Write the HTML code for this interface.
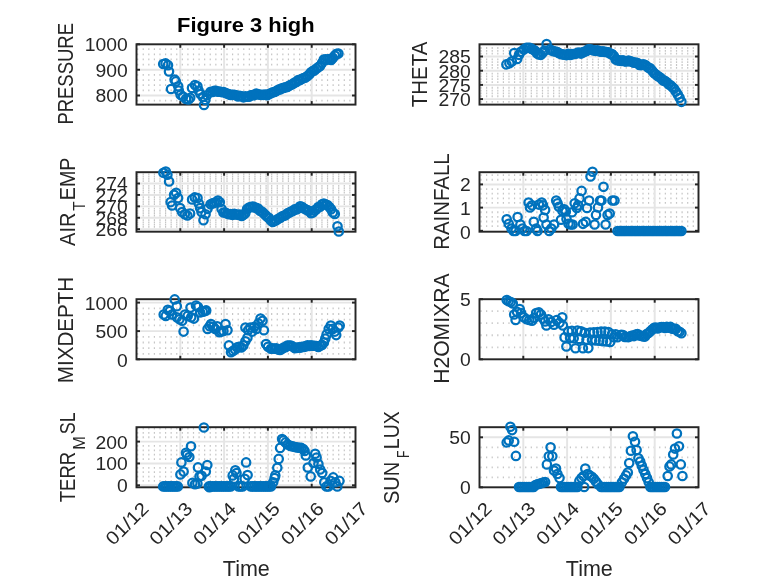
<!DOCTYPE html>
<html><head><meta charset="utf-8"><title>Figure 3 high</title>
<style>
html,body{margin:0;padding:0;background:#fff;}
svg{display:block;font-family:"Liberation Sans",sans-serif;}
svg text{fill:#262626;}
</style></head><body>
<svg width="778" height="583" viewBox="0 0 778 583">
<rect width="778" height="583" fill="#fff"/>
<g>
<line x1="137.05" x2="354.5" y1="100.65" y2="100.65" stroke="#c6c6c6" stroke-width="1.8" stroke-dasharray="1.2 4.385"/>
<line x1="136.5" x2="355.5" y1="95.50" y2="95.50" stroke="#e5e5e5" stroke-width="1.95"/>
<line x1="137.05" x2="354.5" y1="90.35" y2="90.35" stroke="#c6c6c6" stroke-width="1.8" stroke-dasharray="1.2 4.385"/>
<line x1="137.05" x2="354.5" y1="85.20" y2="85.20" stroke="#c6c6c6" stroke-width="1.8" stroke-dasharray="1.2 4.385"/>
<line x1="137.05" x2="354.5" y1="80.05" y2="80.05" stroke="#c6c6c6" stroke-width="1.8" stroke-dasharray="1.2 4.385"/>
<line x1="137.05" x2="354.5" y1="74.90" y2="74.90" stroke="#c6c6c6" stroke-width="1.8" stroke-dasharray="1.2 4.385"/>
<line x1="136.5" x2="355.5" y1="69.75" y2="69.75" stroke="#e5e5e5" stroke-width="1.95"/>
<line x1="137.05" x2="354.5" y1="64.60" y2="64.60" stroke="#c6c6c6" stroke-width="1.8" stroke-dasharray="1.2 4.385"/>
<line x1="137.05" x2="354.5" y1="59.45" y2="59.45" stroke="#c6c6c6" stroke-width="1.8" stroke-dasharray="1.2 4.385"/>
<line x1="137.05" x2="354.5" y1="54.30" y2="54.30" stroke="#c6c6c6" stroke-width="1.8" stroke-dasharray="1.2 4.385"/>
<line x1="137.05" x2="354.5" y1="49.15" y2="49.15" stroke="#c6c6c6" stroke-width="1.8" stroke-dasharray="1.2 4.385"/>
<line x1="180.30" x2="180.30" y1="44.3" y2="104.6" stroke="#e5e5e5" stroke-width="1.95"/>
<line x1="224.10" x2="224.10" y1="44.3" y2="104.6" stroke="#e5e5e5" stroke-width="1.95"/>
<line x1="267.90" x2="267.90" y1="44.3" y2="104.6" stroke="#e5e5e5" stroke-width="1.95"/>
<line x1="311.70" x2="311.70" y1="44.3" y2="104.6" stroke="#e5e5e5" stroke-width="1.95"/>
<rect x="136.5" y="44.3" width="219.0" height="60.30" fill="none" stroke="#262626" stroke-width="1.95"/>
<line x1="180.30" x2="180.30" y1="104.6" y2="101.1" stroke="#262626" stroke-width="1.95"/>
<line x1="180.30" x2="180.30" y1="44.3" y2="47.8" stroke="#262626" stroke-width="1.95"/>
<line x1="224.10" x2="224.10" y1="104.6" y2="101.1" stroke="#262626" stroke-width="1.95"/>
<line x1="224.10" x2="224.10" y1="44.3" y2="47.8" stroke="#262626" stroke-width="1.95"/>
<line x1="267.90" x2="267.90" y1="104.6" y2="101.1" stroke="#262626" stroke-width="1.95"/>
<line x1="267.90" x2="267.90" y1="44.3" y2="47.8" stroke="#262626" stroke-width="1.95"/>
<line x1="311.70" x2="311.70" y1="104.6" y2="101.1" stroke="#262626" stroke-width="1.95"/>
<line x1="311.70" x2="311.70" y1="44.3" y2="47.8" stroke="#262626" stroke-width="1.95"/>
<line x1="136.5" x2="140.0" y1="44.30" y2="44.30" stroke="#262626" stroke-width="1.95"/>
<line x1="355.5" x2="352.0" y1="44.30" y2="44.30" stroke="#262626" stroke-width="1.95"/>
<line x1="136.5" x2="140.0" y1="69.75" y2="69.75" stroke="#262626" stroke-width="1.95"/>
<line x1="355.5" x2="352.0" y1="69.75" y2="69.75" stroke="#262626" stroke-width="1.95"/>
<line x1="136.5" x2="140.0" y1="95.50" y2="95.50" stroke="#262626" stroke-width="1.95"/>
<line x1="355.5" x2="352.0" y1="95.50" y2="95.50" stroke="#262626" stroke-width="1.95"/>
<text x="127.7" y="50.90" text-anchor="end" font-size="18.7" textLength="43.00" lengthAdjust="spacingAndGlyphs">1000</text>
<text x="127.7" y="76.65" text-anchor="end" font-size="18.7" textLength="32.25" lengthAdjust="spacingAndGlyphs">900</text>
<text x="127.7" y="102.40" text-anchor="end" font-size="18.7" textLength="32.25" lengthAdjust="spacingAndGlyphs">800</text>
<g fill="none" stroke="#0072BD" stroke-width="2.25">
<circle cx="163.2" cy="64.0" r="4.2"/>
<circle cx="165.6" cy="63.4" r="4.2"/>
<circle cx="168.0" cy="65.2" r="4.2"/>
<circle cx="169.0" cy="71.5" r="4.2"/>
<circle cx="174.6" cy="79.6" r="4.2"/>
<circle cx="175.8" cy="81.4" r="4.2"/>
<circle cx="171.0" cy="89.0" r="4.2"/>
<circle cx="178.2" cy="86.2" r="4.2"/>
<circle cx="178.8" cy="90.5" r="4.2"/>
<circle cx="180.6" cy="94.7" r="4.2"/>
<circle cx="183.0" cy="96.5" r="4.2"/>
<circle cx="186.0" cy="98.9" r="4.2"/>
<circle cx="188.4" cy="99.5" r="4.2"/>
<circle cx="190.2" cy="97.7" r="4.2"/>
<circle cx="192.0" cy="88.0" r="4.2"/>
<circle cx="195.0" cy="85.0" r="4.2"/>
<circle cx="197.4" cy="86.2" r="4.2"/>
<circle cx="198.6" cy="90.5" r="4.2"/>
<circle cx="200.4" cy="94.0" r="4.2"/>
<circle cx="202.9" cy="97.0" r="4.2"/>
<circle cx="204.0" cy="104.9" r="4.2"/>
<circle cx="205.3" cy="100.0" r="4.2"/>
<circle cx="207.0" cy="95.3" r="4.2"/>
<circle cx="210.6" cy="91.7" r="4.2"/>
<circle cx="212.5" cy="92.0" r="4.2"/>
<circle cx="214.3" cy="90.8" r="4.2"/>
<circle cx="216.1" cy="90.9" r="4.2"/>
<circle cx="217.9" cy="91.7" r="4.2"/>
<circle cx="219.8" cy="91.6" r="4.2"/>
<circle cx="221.6" cy="92.1" r="4.2"/>
<circle cx="223.4" cy="92.0" r="4.2"/>
<circle cx="225.2" cy="92.8" r="4.2"/>
<circle cx="227.1" cy="93.6" r="4.2"/>
<circle cx="228.9" cy="94.3" r="4.2"/>
<circle cx="230.7" cy="94.9" r="4.2"/>
<circle cx="232.5" cy="94.8" r="4.2"/>
<circle cx="234.4" cy="94.7" r="4.2"/>
<circle cx="236.2" cy="95.3" r="4.2"/>
<circle cx="238.0" cy="96.4" r="4.2"/>
<circle cx="239.8" cy="95.7" r="4.2"/>
<circle cx="241.7" cy="96.3" r="4.2"/>
<circle cx="243.5" cy="97.3" r="4.2"/>
<circle cx="245.3" cy="96.3" r="4.2"/>
<circle cx="247.1" cy="96.7" r="4.2"/>
<circle cx="249.0" cy="96.7" r="4.2"/>
<circle cx="250.8" cy="95.2" r="4.2"/>
<circle cx="252.6" cy="95.1" r="4.2"/>
<circle cx="254.4" cy="95.1" r="4.2"/>
<circle cx="256.3" cy="93.5" r="4.2"/>
<circle cx="258.1" cy="94.2" r="4.2"/>
<circle cx="259.9" cy="94.7" r="4.2"/>
<circle cx="261.8" cy="94.8" r="4.2"/>
<circle cx="263.6" cy="94.8" r="4.2"/>
<circle cx="265.4" cy="94.6" r="4.2"/>
<circle cx="267.2" cy="95.2" r="4.2"/>
<circle cx="269.0" cy="94.1" r="4.2"/>
<circle cx="270.9" cy="93.3" r="4.2"/>
<circle cx="272.7" cy="92.3" r="4.2"/>
<circle cx="274.5" cy="92.0" r="4.2"/>
<circle cx="276.3" cy="91.0" r="4.2"/>
<circle cx="278.2" cy="89.7" r="4.2"/>
<circle cx="280.0" cy="89.4" r="4.2"/>
<circle cx="281.8" cy="88.3" r="4.2"/>
<circle cx="283.6" cy="87.9" r="4.2"/>
<circle cx="285.5" cy="87.2" r="4.2"/>
<circle cx="287.3" cy="86.9" r="4.2"/>
<circle cx="289.1" cy="85.8" r="4.2"/>
<circle cx="290.9" cy="84.8" r="4.2"/>
<circle cx="292.8" cy="84.1" r="4.2"/>
<circle cx="294.6" cy="82.5" r="4.2"/>
<circle cx="296.4" cy="82.1" r="4.2"/>
<circle cx="298.2" cy="80.1" r="4.2"/>
<circle cx="300.1" cy="80.1" r="4.2"/>
<circle cx="301.9" cy="78.8" r="4.2"/>
<circle cx="303.7" cy="78.1" r="4.2"/>
<circle cx="305.5" cy="77.6" r="4.2"/>
<circle cx="307.4" cy="76.1" r="4.2"/>
<circle cx="309.2" cy="74.4" r="4.2"/>
<circle cx="311.0" cy="72.3" r="4.2"/>
<circle cx="312.9" cy="70.9" r="4.2"/>
<circle cx="314.7" cy="70.3" r="4.2"/>
<circle cx="316.5" cy="68.5" r="4.2"/>
<circle cx="318.3" cy="67.2" r="4.2"/>
<circle cx="320.1" cy="66.0" r="4.2"/>
<circle cx="322.0" cy="63.1" r="4.2"/>
<circle cx="323.8" cy="59.5" r="4.2"/>
<circle cx="325.6" cy="59.4" r="4.2"/>
<circle cx="327.4" cy="59.6" r="4.2"/>
<circle cx="329.3" cy="59.0" r="4.2"/>
<circle cx="331.1" cy="59.9" r="4.2"/>
<circle cx="332.9" cy="57.9" r="4.2"/>
<circle cx="334.8" cy="55.6" r="4.2"/>
<circle cx="336.6" cy="53.8" r="4.2"/>
<circle cx="338.4" cy="53.6" r="4.2"/>
</g>
</g>
<g>
<line x1="480.45" x2="697.5" y1="101.94" y2="101.94" stroke="#c6c6c6" stroke-width="1.8" stroke-dasharray="1.2 4.385"/>
<line x1="479.5" x2="698.5" y1="99.10" y2="99.10" stroke="#e5e5e5" stroke-width="1.95"/>
<line x1="480.45" x2="697.5" y1="96.26" y2="96.26" stroke="#c6c6c6" stroke-width="1.8" stroke-dasharray="1.2 4.385"/>
<line x1="480.45" x2="697.5" y1="93.42" y2="93.42" stroke="#c6c6c6" stroke-width="1.8" stroke-dasharray="1.2 4.385"/>
<line x1="480.45" x2="697.5" y1="90.58" y2="90.58" stroke="#c6c6c6" stroke-width="1.8" stroke-dasharray="1.2 4.385"/>
<line x1="480.45" x2="697.5" y1="87.74" y2="87.74" stroke="#c6c6c6" stroke-width="1.8" stroke-dasharray="1.2 4.385"/>
<line x1="479.5" x2="698.5" y1="84.90" y2="84.90" stroke="#e5e5e5" stroke-width="1.95"/>
<line x1="480.45" x2="697.5" y1="82.06" y2="82.06" stroke="#c6c6c6" stroke-width="1.8" stroke-dasharray="1.2 4.385"/>
<line x1="480.45" x2="697.5" y1="79.22" y2="79.22" stroke="#c6c6c6" stroke-width="1.8" stroke-dasharray="1.2 4.385"/>
<line x1="480.45" x2="697.5" y1="76.38" y2="76.38" stroke="#c6c6c6" stroke-width="1.8" stroke-dasharray="1.2 4.385"/>
<line x1="480.45" x2="697.5" y1="73.54" y2="73.54" stroke="#c6c6c6" stroke-width="1.8" stroke-dasharray="1.2 4.385"/>
<line x1="479.5" x2="698.5" y1="70.70" y2="70.70" stroke="#e5e5e5" stroke-width="1.95"/>
<line x1="480.45" x2="697.5" y1="67.86" y2="67.86" stroke="#c6c6c6" stroke-width="1.8" stroke-dasharray="1.2 4.385"/>
<line x1="480.45" x2="697.5" y1="65.02" y2="65.02" stroke="#c6c6c6" stroke-width="1.8" stroke-dasharray="1.2 4.385"/>
<line x1="480.45" x2="697.5" y1="62.18" y2="62.18" stroke="#c6c6c6" stroke-width="1.8" stroke-dasharray="1.2 4.385"/>
<line x1="480.45" x2="697.5" y1="59.34" y2="59.34" stroke="#c6c6c6" stroke-width="1.8" stroke-dasharray="1.2 4.385"/>
<line x1="479.5" x2="698.5" y1="56.50" y2="56.50" stroke="#e5e5e5" stroke-width="1.95"/>
<line x1="480.45" x2="697.5" y1="53.66" y2="53.66" stroke="#c6c6c6" stroke-width="1.8" stroke-dasharray="1.2 4.385"/>
<line x1="480.45" x2="697.5" y1="50.82" y2="50.82" stroke="#c6c6c6" stroke-width="1.8" stroke-dasharray="1.2 4.385"/>
<line x1="480.45" x2="697.5" y1="47.98" y2="47.98" stroke="#c6c6c6" stroke-width="1.8" stroke-dasharray="1.2 4.385"/>
<line x1="523.30" x2="523.30" y1="44.3" y2="104.6" stroke="#e5e5e5" stroke-width="1.95"/>
<line x1="567.10" x2="567.10" y1="44.3" y2="104.6" stroke="#e5e5e5" stroke-width="1.95"/>
<line x1="610.90" x2="610.90" y1="44.3" y2="104.6" stroke="#e5e5e5" stroke-width="1.95"/>
<line x1="654.70" x2="654.70" y1="44.3" y2="104.6" stroke="#e5e5e5" stroke-width="1.95"/>
<rect x="479.5" y="44.3" width="219.0" height="60.30" fill="none" stroke="#262626" stroke-width="1.95"/>
<line x1="523.30" x2="523.30" y1="104.6" y2="101.1" stroke="#262626" stroke-width="1.95"/>
<line x1="523.30" x2="523.30" y1="44.3" y2="47.8" stroke="#262626" stroke-width="1.95"/>
<line x1="567.10" x2="567.10" y1="104.6" y2="101.1" stroke="#262626" stroke-width="1.95"/>
<line x1="567.10" x2="567.10" y1="44.3" y2="47.8" stroke="#262626" stroke-width="1.95"/>
<line x1="610.90" x2="610.90" y1="104.6" y2="101.1" stroke="#262626" stroke-width="1.95"/>
<line x1="610.90" x2="610.90" y1="44.3" y2="47.8" stroke="#262626" stroke-width="1.95"/>
<line x1="654.70" x2="654.70" y1="104.6" y2="101.1" stroke="#262626" stroke-width="1.95"/>
<line x1="654.70" x2="654.70" y1="44.3" y2="47.8" stroke="#262626" stroke-width="1.95"/>
<line x1="479.5" x2="483.0" y1="56.50" y2="56.50" stroke="#262626" stroke-width="1.95"/>
<line x1="698.5" x2="695.0" y1="56.50" y2="56.50" stroke="#262626" stroke-width="1.95"/>
<line x1="479.5" x2="483.0" y1="70.70" y2="70.70" stroke="#262626" stroke-width="1.95"/>
<line x1="698.5" x2="695.0" y1="70.70" y2="70.70" stroke="#262626" stroke-width="1.95"/>
<line x1="479.5" x2="483.0" y1="84.90" y2="84.90" stroke="#262626" stroke-width="1.95"/>
<line x1="698.5" x2="695.0" y1="84.90" y2="84.90" stroke="#262626" stroke-width="1.95"/>
<line x1="479.5" x2="483.0" y1="99.10" y2="99.10" stroke="#262626" stroke-width="1.95"/>
<line x1="698.5" x2="695.0" y1="99.10" y2="99.10" stroke="#262626" stroke-width="1.95"/>
<text x="470.7" y="63.40" text-anchor="end" font-size="18.7" textLength="32.25" lengthAdjust="spacingAndGlyphs">285</text>
<text x="470.7" y="77.60" text-anchor="end" font-size="18.7" textLength="32.25" lengthAdjust="spacingAndGlyphs">280</text>
<text x="470.7" y="91.80" text-anchor="end" font-size="18.7" textLength="32.25" lengthAdjust="spacingAndGlyphs">275</text>
<text x="470.7" y="106.00" text-anchor="end" font-size="18.7" textLength="32.25" lengthAdjust="spacingAndGlyphs">270</text>
<g fill="none" stroke="#0072BD" stroke-width="2.25">
<circle cx="506.4" cy="64.4" r="4.2"/>
<circle cx="509.4" cy="63.2" r="4.2"/>
<circle cx="511.8" cy="61.4" r="4.2"/>
<circle cx="514.2" cy="53.0" r="4.2"/>
<circle cx="517.2" cy="59.0" r="4.2"/>
<circle cx="519.0" cy="54.8" r="4.2"/>
<circle cx="520.8" cy="51.8" r="4.2"/>
<circle cx="523.8" cy="49.4" r="4.2"/>
<circle cx="526.3" cy="47.9" r="4.2"/>
<circle cx="528.1" cy="47.7" r="4.2"/>
<circle cx="529.9" cy="47.9" r="4.2"/>
<circle cx="531.8" cy="48.9" r="4.2"/>
<circle cx="533.6" cy="49.8" r="4.2"/>
<circle cx="535.4" cy="51.1" r="4.2"/>
<circle cx="537.2" cy="53.5" r="4.2"/>
<circle cx="539.0" cy="54.5" r="4.2"/>
<circle cx="540.9" cy="54.8" r="4.2"/>
<circle cx="542.7" cy="52.8" r="4.2"/>
<circle cx="544.5" cy="50.6" r="4.2"/>
<circle cx="546.6" cy="44.0" r="4.2"/>
<circle cx="550.0" cy="49.4" r="4.2"/>
<circle cx="551.8" cy="50.5" r="4.2"/>
<circle cx="553.6" cy="51.2" r="4.2"/>
<circle cx="555.5" cy="51.5" r="4.2"/>
<circle cx="557.3" cy="52.1" r="4.2"/>
<circle cx="559.1" cy="53.2" r="4.2"/>
<circle cx="561.0" cy="54.1" r="4.2"/>
<circle cx="562.8" cy="54.3" r="4.2"/>
<circle cx="564.6" cy="54.7" r="4.2"/>
<circle cx="566.4" cy="55.1" r="4.2"/>
<circle cx="568.2" cy="53.9" r="4.2"/>
<circle cx="570.1" cy="55.0" r="4.2"/>
<circle cx="571.9" cy="54.1" r="4.2"/>
<circle cx="573.7" cy="54.1" r="4.2"/>
<circle cx="575.5" cy="53.7" r="4.2"/>
<circle cx="577.4" cy="52.9" r="4.2"/>
<circle cx="579.2" cy="52.5" r="4.2"/>
<circle cx="581.0" cy="53.6" r="4.2"/>
<circle cx="582.9" cy="52.4" r="4.2"/>
<circle cx="584.7" cy="51.6" r="4.2"/>
<circle cx="586.5" cy="51.0" r="4.2"/>
<circle cx="588.3" cy="49.3" r="4.2"/>
<circle cx="590.1" cy="49.2" r="4.2"/>
<circle cx="592.0" cy="49.8" r="4.2"/>
<circle cx="593.8" cy="50.4" r="4.2"/>
<circle cx="595.6" cy="50.8" r="4.2"/>
<circle cx="597.5" cy="50.2" r="4.2"/>
<circle cx="599.3" cy="51.2" r="4.2"/>
<circle cx="601.1" cy="51.7" r="4.2"/>
<circle cx="602.9" cy="51.2" r="4.2"/>
<circle cx="604.8" cy="51.9" r="4.2"/>
<circle cx="606.6" cy="52.0" r="4.2"/>
<circle cx="608.4" cy="52.3" r="4.2"/>
<circle cx="610.2" cy="53.8" r="4.2"/>
<circle cx="612.0" cy="54.0" r="4.2"/>
<circle cx="613.9" cy="56.0" r="4.2"/>
<circle cx="615.7" cy="59.4" r="4.2"/>
<circle cx="617.5" cy="60.3" r="4.2"/>
<circle cx="619.4" cy="60.4" r="4.2"/>
<circle cx="621.2" cy="60.9" r="4.2"/>
<circle cx="623.0" cy="60.3" r="4.2"/>
<circle cx="624.8" cy="61.3" r="4.2"/>
<circle cx="626.6" cy="61.5" r="4.2"/>
<circle cx="628.5" cy="60.5" r="4.2"/>
<circle cx="630.3" cy="61.3" r="4.2"/>
<circle cx="632.1" cy="61.8" r="4.2"/>
<circle cx="634.0" cy="62.7" r="4.2"/>
<circle cx="635.8" cy="62.5" r="4.2"/>
<circle cx="637.6" cy="63.1" r="4.2"/>
<circle cx="639.4" cy="64.9" r="4.2"/>
<circle cx="641.2" cy="65.1" r="4.2"/>
<circle cx="643.1" cy="64.3" r="4.2"/>
<circle cx="644.9" cy="64.8" r="4.2"/>
<circle cx="646.7" cy="66.2" r="4.2"/>
<circle cx="648.5" cy="67.8" r="4.2"/>
<circle cx="650.4" cy="68.4" r="4.2"/>
<circle cx="652.2" cy="70.7" r="4.2"/>
<circle cx="654.0" cy="72.9" r="4.2"/>
<circle cx="655.9" cy="74.6" r="4.2"/>
<circle cx="657.7" cy="75.9" r="4.2"/>
<circle cx="659.5" cy="77.0" r="4.2"/>
<circle cx="661.3" cy="78.6" r="4.2"/>
<circle cx="663.1" cy="80.6" r="4.2"/>
<circle cx="665.0" cy="80.9" r="4.2"/>
<circle cx="666.8" cy="82.3" r="4.2"/>
<circle cx="668.6" cy="84.2" r="4.2"/>
<circle cx="670.5" cy="85.2" r="4.2"/>
<circle cx="672.3" cy="87.0" r="4.2"/>
<circle cx="674.1" cy="88.7" r="4.2"/>
<circle cx="675.9" cy="91.6" r="4.2"/>
<circle cx="677.8" cy="94.6" r="4.2"/>
<circle cx="679.6" cy="97.7" r="4.2"/>
<circle cx="681.4" cy="101.8" r="4.2"/>
</g>
</g>
<g>
<line x1="136.5" x2="355.5" y1="229.20" y2="229.20" stroke="#e5e5e5" stroke-width="1.95"/>
<line x1="137.05" x2="354.5" y1="226.91" y2="226.91" stroke="#c6c6c6" stroke-width="1.8" stroke-dasharray="1.2 4.385"/>
<line x1="137.05" x2="354.5" y1="224.63" y2="224.63" stroke="#c6c6c6" stroke-width="1.8" stroke-dasharray="1.2 4.385"/>
<line x1="137.05" x2="354.5" y1="222.35" y2="222.35" stroke="#c6c6c6" stroke-width="1.8" stroke-dasharray="1.2 4.385"/>
<line x1="137.05" x2="354.5" y1="220.06" y2="220.06" stroke="#c6c6c6" stroke-width="1.8" stroke-dasharray="1.2 4.385"/>
<line x1="136.5" x2="355.5" y1="217.77" y2="217.77" stroke="#e5e5e5" stroke-width="1.95"/>
<line x1="137.05" x2="354.5" y1="215.49" y2="215.49" stroke="#c6c6c6" stroke-width="1.8" stroke-dasharray="1.2 4.385"/>
<line x1="137.05" x2="354.5" y1="213.20" y2="213.20" stroke="#c6c6c6" stroke-width="1.8" stroke-dasharray="1.2 4.385"/>
<line x1="137.05" x2="354.5" y1="210.92" y2="210.92" stroke="#c6c6c6" stroke-width="1.8" stroke-dasharray="1.2 4.385"/>
<line x1="137.05" x2="354.5" y1="208.63" y2="208.63" stroke="#c6c6c6" stroke-width="1.8" stroke-dasharray="1.2 4.385"/>
<line x1="136.5" x2="355.5" y1="206.35" y2="206.35" stroke="#e5e5e5" stroke-width="1.95"/>
<line x1="137.05" x2="354.5" y1="204.06" y2="204.06" stroke="#c6c6c6" stroke-width="1.8" stroke-dasharray="1.2 4.385"/>
<line x1="137.05" x2="354.5" y1="201.78" y2="201.78" stroke="#c6c6c6" stroke-width="1.8" stroke-dasharray="1.2 4.385"/>
<line x1="137.05" x2="354.5" y1="199.50" y2="199.50" stroke="#c6c6c6" stroke-width="1.8" stroke-dasharray="1.2 4.385"/>
<line x1="137.05" x2="354.5" y1="197.21" y2="197.21" stroke="#c6c6c6" stroke-width="1.8" stroke-dasharray="1.2 4.385"/>
<line x1="136.5" x2="355.5" y1="194.93" y2="194.93" stroke="#e5e5e5" stroke-width="1.95"/>
<line x1="137.05" x2="354.5" y1="192.64" y2="192.64" stroke="#c6c6c6" stroke-width="1.8" stroke-dasharray="1.2 4.385"/>
<line x1="137.05" x2="354.5" y1="190.35" y2="190.35" stroke="#c6c6c6" stroke-width="1.8" stroke-dasharray="1.2 4.385"/>
<line x1="137.05" x2="354.5" y1="188.07" y2="188.07" stroke="#c6c6c6" stroke-width="1.8" stroke-dasharray="1.2 4.385"/>
<line x1="137.05" x2="354.5" y1="185.78" y2="185.78" stroke="#c6c6c6" stroke-width="1.8" stroke-dasharray="1.2 4.385"/>
<line x1="136.5" x2="355.5" y1="183.50" y2="183.50" stroke="#e5e5e5" stroke-width="1.95"/>
<line x1="137.05" x2="354.5" y1="181.21" y2="181.21" stroke="#c6c6c6" stroke-width="1.8" stroke-dasharray="1.2 4.385"/>
<line x1="137.05" x2="354.5" y1="178.93" y2="178.93" stroke="#c6c6c6" stroke-width="1.8" stroke-dasharray="1.2 4.385"/>
<line x1="137.05" x2="354.5" y1="176.65" y2="176.65" stroke="#c6c6c6" stroke-width="1.8" stroke-dasharray="1.2 4.385"/>
<line x1="137.05" x2="354.5" y1="174.36" y2="174.36" stroke="#c6c6c6" stroke-width="1.8" stroke-dasharray="1.2 4.385"/>
<line x1="180.30" x2="180.30" y1="172.2" y2="231.7" stroke="#e5e5e5" stroke-width="1.95"/>
<line x1="224.10" x2="224.10" y1="172.2" y2="231.7" stroke="#e5e5e5" stroke-width="1.95"/>
<line x1="267.90" x2="267.90" y1="172.2" y2="231.7" stroke="#e5e5e5" stroke-width="1.95"/>
<line x1="311.70" x2="311.70" y1="172.2" y2="231.7" stroke="#e5e5e5" stroke-width="1.95"/>
<rect x="136.5" y="172.2" width="219.0" height="59.50" fill="none" stroke="#262626" stroke-width="1.95"/>
<line x1="180.30" x2="180.30" y1="231.7" y2="228.2" stroke="#262626" stroke-width="1.95"/>
<line x1="180.30" x2="180.30" y1="172.2" y2="175.7" stroke="#262626" stroke-width="1.95"/>
<line x1="224.10" x2="224.10" y1="231.7" y2="228.2" stroke="#262626" stroke-width="1.95"/>
<line x1="224.10" x2="224.10" y1="172.2" y2="175.7" stroke="#262626" stroke-width="1.95"/>
<line x1="267.90" x2="267.90" y1="231.7" y2="228.2" stroke="#262626" stroke-width="1.95"/>
<line x1="267.90" x2="267.90" y1="172.2" y2="175.7" stroke="#262626" stroke-width="1.95"/>
<line x1="311.70" x2="311.70" y1="231.7" y2="228.2" stroke="#262626" stroke-width="1.95"/>
<line x1="311.70" x2="311.70" y1="172.2" y2="175.7" stroke="#262626" stroke-width="1.95"/>
<line x1="136.5" x2="140.0" y1="183.50" y2="183.50" stroke="#262626" stroke-width="1.95"/>
<line x1="355.5" x2="352.0" y1="183.50" y2="183.50" stroke="#262626" stroke-width="1.95"/>
<line x1="136.5" x2="140.0" y1="194.93" y2="194.93" stroke="#262626" stroke-width="1.95"/>
<line x1="355.5" x2="352.0" y1="194.93" y2="194.93" stroke="#262626" stroke-width="1.95"/>
<line x1="136.5" x2="140.0" y1="206.35" y2="206.35" stroke="#262626" stroke-width="1.95"/>
<line x1="355.5" x2="352.0" y1="206.35" y2="206.35" stroke="#262626" stroke-width="1.95"/>
<line x1="136.5" x2="140.0" y1="217.77" y2="217.77" stroke="#262626" stroke-width="1.95"/>
<line x1="355.5" x2="352.0" y1="217.77" y2="217.77" stroke="#262626" stroke-width="1.95"/>
<line x1="136.5" x2="140.0" y1="229.20" y2="229.20" stroke="#262626" stroke-width="1.95"/>
<line x1="355.5" x2="352.0" y1="229.20" y2="229.20" stroke="#262626" stroke-width="1.95"/>
<text x="127.7" y="190.40" text-anchor="end" font-size="18.7" textLength="32.25" lengthAdjust="spacingAndGlyphs">274</text>
<text x="127.7" y="201.83" text-anchor="end" font-size="18.7" textLength="32.25" lengthAdjust="spacingAndGlyphs">272</text>
<text x="127.7" y="213.25" text-anchor="end" font-size="18.7" textLength="32.25" lengthAdjust="spacingAndGlyphs">270</text>
<text x="127.7" y="224.67" text-anchor="end" font-size="18.7" textLength="32.25" lengthAdjust="spacingAndGlyphs">268</text>
<text x="127.7" y="236.10" text-anchor="end" font-size="18.7" textLength="32.25" lengthAdjust="spacingAndGlyphs">266</text>
<g fill="none" stroke="#0072BD" stroke-width="2.25">
<circle cx="163.4" cy="172.7" r="4.2"/>
<circle cx="165.8" cy="171.6" r="4.2"/>
<circle cx="167.4" cy="174.7" r="4.2"/>
<circle cx="169.1" cy="181.4" r="4.2"/>
<circle cx="176.1" cy="192.8" r="4.2"/>
<circle cx="174.1" cy="194.8" r="4.2"/>
<circle cx="178.1" cy="198.1" r="4.2"/>
<circle cx="170.7" cy="202.1" r="4.2"/>
<circle cx="172.1" cy="205.5" r="4.2"/>
<circle cx="180.1" cy="208.1" r="4.2"/>
<circle cx="182.1" cy="212.1" r="4.2"/>
<circle cx="184.8" cy="214.2" r="4.2"/>
<circle cx="187.4" cy="215.5" r="4.2"/>
<circle cx="190.1" cy="213.5" r="4.2"/>
<circle cx="192.1" cy="199.4" r="4.2"/>
<circle cx="194.8" cy="197.4" r="4.2"/>
<circle cx="197.5" cy="198.1" r="4.2"/>
<circle cx="198.8" cy="203.5" r="4.2"/>
<circle cx="200.1" cy="208.1" r="4.2"/>
<circle cx="201.5" cy="212.1" r="4.2"/>
<circle cx="203.5" cy="220.2" r="4.2"/>
<circle cx="205.5" cy="214.2" r="4.2"/>
<circle cx="207.5" cy="208.8" r="4.2"/>
<circle cx="210.6" cy="204.3" r="4.2"/>
<circle cx="212.5" cy="203.4" r="4.2"/>
<circle cx="214.3" cy="202.7" r="4.2"/>
<circle cx="216.1" cy="202.2" r="4.2"/>
<circle cx="217.9" cy="200.5" r="4.2"/>
<circle cx="219.8" cy="202.2" r="4.2"/>
<circle cx="221.6" cy="209.1" r="4.2"/>
<circle cx="223.4" cy="212.5" r="4.2"/>
<circle cx="225.2" cy="212.5" r="4.2"/>
<circle cx="227.1" cy="213.5" r="4.2"/>
<circle cx="228.9" cy="214.2" r="4.2"/>
<circle cx="230.7" cy="214.1" r="4.2"/>
<circle cx="232.5" cy="214.8" r="4.2"/>
<circle cx="234.4" cy="213.9" r="4.2"/>
<circle cx="236.2" cy="214.5" r="4.2"/>
<circle cx="238.0" cy="214.7" r="4.2"/>
<circle cx="239.8" cy="214.6" r="4.2"/>
<circle cx="241.7" cy="215.9" r="4.2"/>
<circle cx="243.5" cy="214.8" r="4.2"/>
<circle cx="245.3" cy="213.3" r="4.2"/>
<circle cx="247.1" cy="209.1" r="4.2"/>
<circle cx="249.0" cy="207.6" r="4.2"/>
<circle cx="250.8" cy="207.1" r="4.2"/>
<circle cx="252.6" cy="206.5" r="4.2"/>
<circle cx="254.4" cy="207.4" r="4.2"/>
<circle cx="256.3" cy="207.9" r="4.2"/>
<circle cx="258.1" cy="208.5" r="4.2"/>
<circle cx="259.9" cy="210.7" r="4.2"/>
<circle cx="261.8" cy="211.6" r="4.2"/>
<circle cx="263.6" cy="213.3" r="4.2"/>
<circle cx="265.4" cy="215.1" r="4.2"/>
<circle cx="267.2" cy="216.7" r="4.2"/>
<circle cx="269.0" cy="218.0" r="4.2"/>
<circle cx="270.9" cy="220.6" r="4.2"/>
<circle cx="272.7" cy="222.0" r="4.2"/>
<circle cx="274.5" cy="221.0" r="4.2"/>
<circle cx="276.3" cy="220.2" r="4.2"/>
<circle cx="278.2" cy="218.8" r="4.2"/>
<circle cx="280.0" cy="218.0" r="4.2"/>
<circle cx="281.8" cy="216.6" r="4.2"/>
<circle cx="283.6" cy="215.8" r="4.2"/>
<circle cx="285.5" cy="215.3" r="4.2"/>
<circle cx="287.3" cy="213.4" r="4.2"/>
<circle cx="289.1" cy="212.7" r="4.2"/>
<circle cx="290.9" cy="211.5" r="4.2"/>
<circle cx="292.8" cy="211.1" r="4.2"/>
<circle cx="294.6" cy="209.4" r="4.2"/>
<circle cx="296.4" cy="209.5" r="4.2"/>
<circle cx="298.2" cy="208.3" r="4.2"/>
<circle cx="300.1" cy="206.3" r="4.2"/>
<circle cx="301.9" cy="206.7" r="4.2"/>
<circle cx="303.7" cy="208.2" r="4.2"/>
<circle cx="305.5" cy="209.2" r="4.2"/>
<circle cx="307.4" cy="210.3" r="4.2"/>
<circle cx="309.2" cy="210.8" r="4.2"/>
<circle cx="311.0" cy="213.2" r="4.2"/>
<circle cx="312.9" cy="212.4" r="4.2"/>
<circle cx="314.7" cy="210.4" r="4.2"/>
<circle cx="316.5" cy="209.3" r="4.2"/>
<circle cx="318.3" cy="207.0" r="4.2"/>
<circle cx="320.1" cy="206.7" r="4.2"/>
<circle cx="322.0" cy="204.3" r="4.2"/>
<circle cx="323.8" cy="203.5" r="4.2"/>
<circle cx="325.6" cy="204.6" r="4.2"/>
<circle cx="327.4" cy="205.0" r="4.2"/>
<circle cx="329.3" cy="207.0" r="4.2"/>
<circle cx="331.1" cy="209.2" r="4.2"/>
<circle cx="332.9" cy="212.4" r="4.2"/>
<circle cx="334.8" cy="214.0" r="4.2"/>
<circle cx="337.5" cy="226.2" r="4.2"/>
<circle cx="338.8" cy="231.5" r="4.2"/>
</g>
</g>
<g>
<line x1="480.45" x2="697.5" y1="226.16" y2="226.16" stroke="#c6c6c6" stroke-width="1.8" stroke-dasharray="1.2 4.385"/>
<line x1="480.45" x2="697.5" y1="221.52" y2="221.52" stroke="#c6c6c6" stroke-width="1.8" stroke-dasharray="1.2 4.385"/>
<line x1="480.45" x2="697.5" y1="216.88" y2="216.88" stroke="#c6c6c6" stroke-width="1.8" stroke-dasharray="1.2 4.385"/>
<line x1="480.45" x2="697.5" y1="212.24" y2="212.24" stroke="#c6c6c6" stroke-width="1.8" stroke-dasharray="1.2 4.385"/>
<line x1="479.5" x2="698.5" y1="207.60" y2="207.60" stroke="#e5e5e5" stroke-width="1.95"/>
<line x1="480.45" x2="697.5" y1="202.96" y2="202.96" stroke="#c6c6c6" stroke-width="1.8" stroke-dasharray="1.2 4.385"/>
<line x1="480.45" x2="697.5" y1="198.32" y2="198.32" stroke="#c6c6c6" stroke-width="1.8" stroke-dasharray="1.2 4.385"/>
<line x1="480.45" x2="697.5" y1="193.68" y2="193.68" stroke="#c6c6c6" stroke-width="1.8" stroke-dasharray="1.2 4.385"/>
<line x1="480.45" x2="697.5" y1="189.04" y2="189.04" stroke="#c6c6c6" stroke-width="1.8" stroke-dasharray="1.2 4.385"/>
<line x1="479.5" x2="698.5" y1="184.40" y2="184.40" stroke="#e5e5e5" stroke-width="1.95"/>
<line x1="480.45" x2="697.5" y1="179.76" y2="179.76" stroke="#c6c6c6" stroke-width="1.8" stroke-dasharray="1.2 4.385"/>
<line x1="480.45" x2="697.5" y1="175.12" y2="175.12" stroke="#c6c6c6" stroke-width="1.8" stroke-dasharray="1.2 4.385"/>
<line x1="523.30" x2="523.30" y1="172.2" y2="231.7" stroke="#e5e5e5" stroke-width="1.95"/>
<line x1="567.10" x2="567.10" y1="172.2" y2="231.7" stroke="#e5e5e5" stroke-width="1.95"/>
<line x1="610.90" x2="610.90" y1="172.2" y2="231.7" stroke="#e5e5e5" stroke-width="1.95"/>
<line x1="654.70" x2="654.70" y1="172.2" y2="231.7" stroke="#e5e5e5" stroke-width="1.95"/>
<rect x="479.5" y="172.2" width="219.0" height="59.50" fill="none" stroke="#262626" stroke-width="1.95"/>
<line x1="523.30" x2="523.30" y1="231.7" y2="228.2" stroke="#262626" stroke-width="1.95"/>
<line x1="523.30" x2="523.30" y1="172.2" y2="175.7" stroke="#262626" stroke-width="1.95"/>
<line x1="567.10" x2="567.10" y1="231.7" y2="228.2" stroke="#262626" stroke-width="1.95"/>
<line x1="567.10" x2="567.10" y1="172.2" y2="175.7" stroke="#262626" stroke-width="1.95"/>
<line x1="610.90" x2="610.90" y1="231.7" y2="228.2" stroke="#262626" stroke-width="1.95"/>
<line x1="610.90" x2="610.90" y1="172.2" y2="175.7" stroke="#262626" stroke-width="1.95"/>
<line x1="654.70" x2="654.70" y1="231.7" y2="228.2" stroke="#262626" stroke-width="1.95"/>
<line x1="654.70" x2="654.70" y1="172.2" y2="175.7" stroke="#262626" stroke-width="1.95"/>
<line x1="479.5" x2="483.0" y1="184.40" y2="184.40" stroke="#262626" stroke-width="1.95"/>
<line x1="698.5" x2="695.0" y1="184.40" y2="184.40" stroke="#262626" stroke-width="1.95"/>
<line x1="479.5" x2="483.0" y1="207.60" y2="207.60" stroke="#262626" stroke-width="1.95"/>
<line x1="698.5" x2="695.0" y1="207.60" y2="207.60" stroke="#262626" stroke-width="1.95"/>
<line x1="479.5" x2="483.0" y1="230.80" y2="230.80" stroke="#262626" stroke-width="1.95"/>
<line x1="698.5" x2="695.0" y1="230.80" y2="230.80" stroke="#262626" stroke-width="1.95"/>
<text x="470.7" y="191.40" text-anchor="end" font-size="18.7" textLength="10.75" lengthAdjust="spacingAndGlyphs">2</text>
<text x="470.7" y="215.30" text-anchor="end" font-size="18.7" textLength="10.75" lengthAdjust="spacingAndGlyphs">1</text>
<text x="470.7" y="239.30" text-anchor="end" font-size="18.7" textLength="10.75" lengthAdjust="spacingAndGlyphs">0</text>
<g fill="none" stroke="#0072BD" stroke-width="2.25">
<circle cx="506.7" cy="219.3" r="4.2"/>
<circle cx="508.7" cy="223.8" r="4.2"/>
<circle cx="511.5" cy="228.6" r="4.2"/>
<circle cx="513.5" cy="231.0" r="4.2"/>
<circle cx="515.6" cy="231.0" r="4.2"/>
<circle cx="517.6" cy="217.0" r="4.2"/>
<circle cx="520.4" cy="224.5" r="4.2"/>
<circle cx="522.4" cy="228.6" r="4.2"/>
<circle cx="524.5" cy="231.0" r="4.2"/>
<circle cx="526.6" cy="231.0" r="4.2"/>
<circle cx="528.6" cy="202.5" r="4.2"/>
<circle cx="530.0" cy="207.4" r="4.2"/>
<circle cx="532.0" cy="205.3" r="4.2"/>
<circle cx="533.8" cy="221.8" r="4.2"/>
<circle cx="536.2" cy="228.6" r="4.2"/>
<circle cx="537.5" cy="231.0" r="4.2"/>
<circle cx="538.9" cy="204.6" r="4.2"/>
<circle cx="541.7" cy="202.5" r="4.2"/>
<circle cx="543.0" cy="205.3" r="4.2"/>
<circle cx="545.1" cy="210.1" r="4.2"/>
<circle cx="543.6" cy="217.6" r="4.2"/>
<circle cx="546.5" cy="224.5" r="4.2"/>
<circle cx="549.2" cy="231.0" r="4.2"/>
<circle cx="551.3" cy="228.6" r="4.2"/>
<circle cx="554.0" cy="224.5" r="4.2"/>
<circle cx="556.2" cy="200.5" r="4.2"/>
<circle cx="557.5" cy="203.2" r="4.2"/>
<circle cx="558.9" cy="206.7" r="4.2"/>
<circle cx="561.0" cy="219.7" r="4.2"/>
<circle cx="562.4" cy="210.8" r="4.2"/>
<circle cx="564.4" cy="209.4" r="4.2"/>
<circle cx="565.8" cy="211.5" r="4.2"/>
<circle cx="566.5" cy="219.0" r="4.2"/>
<circle cx="568.5" cy="223.8" r="4.2"/>
<circle cx="570.6" cy="224.5" r="4.2"/>
<circle cx="572.6" cy="224.5" r="4.2"/>
<circle cx="572.0" cy="212.2" r="4.2"/>
<circle cx="574.7" cy="203.2" r="4.2"/>
<circle cx="576.8" cy="208.0" r="4.2"/>
<circle cx="578.1" cy="205.3" r="4.2"/>
<circle cx="579.5" cy="198.4" r="4.2"/>
<circle cx="581.6" cy="190.9" r="4.2"/>
<circle cx="583.0" cy="223.8" r="4.2"/>
<circle cx="585.7" cy="221.8" r="4.2"/>
<circle cx="587.0" cy="208.0" r="4.2"/>
<circle cx="589.1" cy="200.5" r="4.2"/>
<circle cx="590.5" cy="176.5" r="4.2"/>
<circle cx="592.5" cy="171.7" r="4.2"/>
<circle cx="594.6" cy="224.5" r="4.2"/>
<circle cx="596.0" cy="214.9" r="4.2"/>
<circle cx="598.0" cy="207.4" r="4.2"/>
<circle cx="600.1" cy="200.5" r="4.2"/>
<circle cx="601.5" cy="200.5" r="4.2"/>
<circle cx="603.5" cy="186.8" r="4.2"/>
<circle cx="605.6" cy="224.5" r="4.2"/>
<circle cx="607.6" cy="214.9" r="4.2"/>
<circle cx="609.7" cy="213.5" r="4.2"/>
<circle cx="612.4" cy="200.5" r="4.2"/>
<circle cx="614.5" cy="200.5" r="4.2"/>
<circle cx="617.5" cy="231.0" r="4.2"/>
<circle cx="619.4" cy="231.0" r="4.2"/>
<circle cx="621.2" cy="231.0" r="4.2"/>
<circle cx="623.0" cy="231.0" r="4.2"/>
<circle cx="624.8" cy="231.0" r="4.2"/>
<circle cx="626.6" cy="231.0" r="4.2"/>
<circle cx="628.5" cy="231.0" r="4.2"/>
<circle cx="630.3" cy="231.0" r="4.2"/>
<circle cx="632.1" cy="231.0" r="4.2"/>
<circle cx="634.0" cy="231.0" r="4.2"/>
<circle cx="635.8" cy="231.0" r="4.2"/>
<circle cx="637.6" cy="231.0" r="4.2"/>
<circle cx="639.4" cy="231.0" r="4.2"/>
<circle cx="641.2" cy="231.0" r="4.2"/>
<circle cx="643.1" cy="231.0" r="4.2"/>
<circle cx="644.9" cy="231.0" r="4.2"/>
<circle cx="646.7" cy="231.0" r="4.2"/>
<circle cx="648.5" cy="231.0" r="4.2"/>
<circle cx="650.4" cy="231.0" r="4.2"/>
<circle cx="652.2" cy="231.0" r="4.2"/>
<circle cx="654.0" cy="231.0" r="4.2"/>
<circle cx="655.9" cy="231.0" r="4.2"/>
<circle cx="657.7" cy="231.0" r="4.2"/>
<circle cx="659.5" cy="231.0" r="4.2"/>
<circle cx="661.3" cy="231.0" r="4.2"/>
<circle cx="663.1" cy="231.0" r="4.2"/>
<circle cx="665.0" cy="231.0" r="4.2"/>
<circle cx="666.8" cy="231.0" r="4.2"/>
<circle cx="668.6" cy="231.0" r="4.2"/>
<circle cx="670.5" cy="231.0" r="4.2"/>
<circle cx="672.3" cy="231.0" r="4.2"/>
<circle cx="674.1" cy="231.0" r="4.2"/>
<circle cx="675.9" cy="231.0" r="4.2"/>
<circle cx="677.8" cy="231.0" r="4.2"/>
<circle cx="679.6" cy="231.0" r="4.2"/>
<circle cx="681.4" cy="231.0" r="4.2"/>
</g>
</g>
<g>
<line x1="137.05" x2="354.5" y1="353.90" y2="353.90" stroke="#c6c6c6" stroke-width="1.8" stroke-dasharray="1.2 4.385"/>
<line x1="137.05" x2="354.5" y1="348.20" y2="348.20" stroke="#c6c6c6" stroke-width="1.8" stroke-dasharray="1.2 4.385"/>
<line x1="137.05" x2="354.5" y1="342.50" y2="342.50" stroke="#c6c6c6" stroke-width="1.8" stroke-dasharray="1.2 4.385"/>
<line x1="137.05" x2="354.5" y1="336.80" y2="336.80" stroke="#c6c6c6" stroke-width="1.8" stroke-dasharray="1.2 4.385"/>
<line x1="136.5" x2="355.5" y1="331.10" y2="331.10" stroke="#e5e5e5" stroke-width="1.95"/>
<line x1="137.05" x2="354.5" y1="325.40" y2="325.40" stroke="#c6c6c6" stroke-width="1.8" stroke-dasharray="1.2 4.385"/>
<line x1="137.05" x2="354.5" y1="319.70" y2="319.70" stroke="#c6c6c6" stroke-width="1.8" stroke-dasharray="1.2 4.385"/>
<line x1="137.05" x2="354.5" y1="314.00" y2="314.00" stroke="#c6c6c6" stroke-width="1.8" stroke-dasharray="1.2 4.385"/>
<line x1="137.05" x2="354.5" y1="308.30" y2="308.30" stroke="#c6c6c6" stroke-width="1.8" stroke-dasharray="1.2 4.385"/>
<line x1="136.5" x2="355.5" y1="302.60" y2="302.60" stroke="#e5e5e5" stroke-width="1.95"/>
<line x1="180.30" x2="180.30" y1="299.2" y2="359.3" stroke="#e5e5e5" stroke-width="1.95"/>
<line x1="224.10" x2="224.10" y1="299.2" y2="359.3" stroke="#e5e5e5" stroke-width="1.95"/>
<line x1="267.90" x2="267.90" y1="299.2" y2="359.3" stroke="#e5e5e5" stroke-width="1.95"/>
<line x1="311.70" x2="311.70" y1="299.2" y2="359.3" stroke="#e5e5e5" stroke-width="1.95"/>
<rect x="136.5" y="299.2" width="219.0" height="60.10" fill="none" stroke="#262626" stroke-width="1.95"/>
<line x1="180.30" x2="180.30" y1="359.3" y2="355.8" stroke="#262626" stroke-width="1.95"/>
<line x1="180.30" x2="180.30" y1="299.2" y2="302.7" stroke="#262626" stroke-width="1.95"/>
<line x1="224.10" x2="224.10" y1="359.3" y2="355.8" stroke="#262626" stroke-width="1.95"/>
<line x1="224.10" x2="224.10" y1="299.2" y2="302.7" stroke="#262626" stroke-width="1.95"/>
<line x1="267.90" x2="267.90" y1="359.3" y2="355.8" stroke="#262626" stroke-width="1.95"/>
<line x1="267.90" x2="267.90" y1="299.2" y2="302.7" stroke="#262626" stroke-width="1.95"/>
<line x1="311.70" x2="311.70" y1="359.3" y2="355.8" stroke="#262626" stroke-width="1.95"/>
<line x1="311.70" x2="311.70" y1="299.2" y2="302.7" stroke="#262626" stroke-width="1.95"/>
<line x1="136.5" x2="140.0" y1="302.60" y2="302.60" stroke="#262626" stroke-width="1.95"/>
<line x1="355.5" x2="352.0" y1="302.60" y2="302.60" stroke="#262626" stroke-width="1.95"/>
<line x1="136.5" x2="140.0" y1="331.10" y2="331.10" stroke="#262626" stroke-width="1.95"/>
<line x1="355.5" x2="352.0" y1="331.10" y2="331.10" stroke="#262626" stroke-width="1.95"/>
<line x1="136.5" x2="140.0" y1="359.30" y2="359.30" stroke="#262626" stroke-width="1.95"/>
<line x1="355.5" x2="352.0" y1="359.30" y2="359.30" stroke="#262626" stroke-width="1.95"/>
<text x="127.7" y="309.50" text-anchor="end" font-size="18.7" textLength="43.00" lengthAdjust="spacingAndGlyphs">1000</text>
<text x="127.7" y="338.00" text-anchor="end" font-size="18.7" textLength="32.25" lengthAdjust="spacingAndGlyphs">500</text>
<text x="127.7" y="366.50" text-anchor="end" font-size="18.7" textLength="10.75" lengthAdjust="spacingAndGlyphs">0</text>
<g fill="none" stroke="#0072BD" stroke-width="2.25">
<circle cx="163.7" cy="314.5" r="4.2"/>
<circle cx="165.8" cy="315.9" r="4.2"/>
<circle cx="167.8" cy="309.7" r="4.2"/>
<circle cx="169.9" cy="311.1" r="4.2"/>
<circle cx="172.0" cy="314.5" r="4.2"/>
<circle cx="174.7" cy="299.4" r="4.2"/>
<circle cx="176.8" cy="306.3" r="4.2"/>
<circle cx="176.8" cy="317.2" r="4.2"/>
<circle cx="179.5" cy="319.3" r="4.2"/>
<circle cx="182.2" cy="320.7" r="4.2"/>
<circle cx="183.6" cy="331.6" r="4.2"/>
<circle cx="185.0" cy="314.5" r="4.2"/>
<circle cx="187.7" cy="315.9" r="4.2"/>
<circle cx="190.5" cy="307.6" r="4.2"/>
<circle cx="191.2" cy="317.2" r="4.2"/>
<circle cx="193.9" cy="318.6" r="4.2"/>
<circle cx="196.0" cy="305.6" r="4.2"/>
<circle cx="198.0" cy="307.0" r="4.2"/>
<circle cx="200.1" cy="312.4" r="4.2"/>
<circle cx="202.8" cy="311.8" r="4.2"/>
<circle cx="204.9" cy="311.1" r="4.2"/>
<circle cx="206.2" cy="310.4" r="4.2"/>
<circle cx="207.6" cy="328.9" r="4.2"/>
<circle cx="209.7" cy="326.2" r="4.2"/>
<circle cx="211.0" cy="324.1" r="4.2"/>
<circle cx="213.1" cy="326.8" r="4.2"/>
<circle cx="215.2" cy="328.9" r="4.2"/>
<circle cx="217.2" cy="326.2" r="4.2"/>
<circle cx="219.3" cy="332.3" r="4.2"/>
<circle cx="221.3" cy="331.6" r="4.2"/>
<circle cx="223.4" cy="331.0" r="4.2"/>
<circle cx="225.5" cy="324.1" r="4.2"/>
<circle cx="227.5" cy="330.3" r="4.2"/>
<circle cx="228.9" cy="345.4" r="4.2"/>
<circle cx="231.0" cy="352.2" r="4.2"/>
<circle cx="233.0" cy="350.9" r="4.2"/>
<circle cx="235.1" cy="349.5" r="4.2"/>
<circle cx="237.1" cy="347.4" r="4.2"/>
<circle cx="239.2" cy="346.7" r="4.2"/>
<circle cx="241.3" cy="347.4" r="4.2"/>
<circle cx="243.3" cy="345.4" r="4.2"/>
<circle cx="245.4" cy="341.2" r="4.2"/>
<circle cx="247.4" cy="337.8" r="4.2"/>
<circle cx="245.4" cy="327.5" r="4.2"/>
<circle cx="248.1" cy="330.3" r="4.2"/>
<circle cx="250.2" cy="327.5" r="4.2"/>
<circle cx="252.2" cy="331.6" r="4.2"/>
<circle cx="254.3" cy="326.8" r="4.2"/>
<circle cx="256.4" cy="328.9" r="4.2"/>
<circle cx="258.4" cy="323.4" r="4.2"/>
<circle cx="260.5" cy="318.6" r="4.2"/>
<circle cx="262.5" cy="320.7" r="4.2"/>
<circle cx="263.9" cy="330.3" r="4.2"/>
<circle cx="266.0" cy="344.0" r="4.2"/>
<circle cx="268.0" cy="346.7" r="4.2"/>
<circle cx="270.9" cy="348.8" r="4.2"/>
<circle cx="272.7" cy="348.4" r="4.2"/>
<circle cx="274.5" cy="348.7" r="4.2"/>
<circle cx="276.3" cy="348.4" r="4.2"/>
<circle cx="278.2" cy="349.5" r="4.2"/>
<circle cx="280.0" cy="349.9" r="4.2"/>
<circle cx="281.8" cy="349.0" r="4.2"/>
<circle cx="283.6" cy="347.5" r="4.2"/>
<circle cx="285.5" cy="347.3" r="4.2"/>
<circle cx="287.3" cy="345.5" r="4.2"/>
<circle cx="289.1" cy="345.6" r="4.2"/>
<circle cx="290.9" cy="345.5" r="4.2"/>
<circle cx="292.8" cy="346.5" r="4.2"/>
<circle cx="294.6" cy="348.1" r="4.2"/>
<circle cx="296.4" cy="348.0" r="4.2"/>
<circle cx="298.2" cy="347.3" r="4.2"/>
<circle cx="300.1" cy="347.8" r="4.2"/>
<circle cx="301.9" cy="346.7" r="4.2"/>
<circle cx="303.7" cy="346.9" r="4.2"/>
<circle cx="305.5" cy="346.4" r="4.2"/>
<circle cx="307.4" cy="345.3" r="4.2"/>
<circle cx="309.2" cy="345.9" r="4.2"/>
<circle cx="311.0" cy="345.3" r="4.2"/>
<circle cx="312.9" cy="345.8" r="4.2"/>
<circle cx="314.7" cy="345.8" r="4.2"/>
<circle cx="316.5" cy="346.0" r="4.2"/>
<circle cx="318.3" cy="347.0" r="4.2"/>
<circle cx="320.1" cy="345.8" r="4.2"/>
<circle cx="322.0" cy="344.9" r="4.2"/>
<circle cx="323.9" cy="342.6" r="4.2"/>
<circle cx="325.3" cy="338.5" r="4.2"/>
<circle cx="326.6" cy="334.4" r="4.2"/>
<circle cx="328.7" cy="328.9" r="4.2"/>
<circle cx="330.8" cy="325.5" r="4.2"/>
<circle cx="332.8" cy="328.9" r="4.2"/>
<circle cx="334.9" cy="331.6" r="4.2"/>
<circle cx="336.2" cy="335.1" r="4.2"/>
<circle cx="338.3" cy="327.5" r="4.2"/>
<circle cx="339.7" cy="325.5" r="4.2"/>
</g>
</g>
<g>
<line x1="480.45" x2="697.5" y1="347.32" y2="347.32" stroke="#c6c6c6" stroke-width="1.8" stroke-dasharray="1.2 4.385"/>
<line x1="480.45" x2="697.5" y1="335.24" y2="335.24" stroke="#c6c6c6" stroke-width="1.8" stroke-dasharray="1.2 4.385"/>
<line x1="480.45" x2="697.5" y1="323.16" y2="323.16" stroke="#c6c6c6" stroke-width="1.8" stroke-dasharray="1.2 4.385"/>
<line x1="480.45" x2="697.5" y1="311.08" y2="311.08" stroke="#c6c6c6" stroke-width="1.8" stroke-dasharray="1.2 4.385"/>
<line x1="523.30" x2="523.30" y1="299.2" y2="359.3" stroke="#e5e5e5" stroke-width="1.95"/>
<line x1="567.10" x2="567.10" y1="299.2" y2="359.3" stroke="#e5e5e5" stroke-width="1.95"/>
<line x1="610.90" x2="610.90" y1="299.2" y2="359.3" stroke="#e5e5e5" stroke-width="1.95"/>
<line x1="654.70" x2="654.70" y1="299.2" y2="359.3" stroke="#e5e5e5" stroke-width="1.95"/>
<rect x="479.5" y="299.2" width="219.0" height="60.10" fill="none" stroke="#262626" stroke-width="1.95"/>
<line x1="523.30" x2="523.30" y1="359.3" y2="355.8" stroke="#262626" stroke-width="1.95"/>
<line x1="523.30" x2="523.30" y1="299.2" y2="302.7" stroke="#262626" stroke-width="1.95"/>
<line x1="567.10" x2="567.10" y1="359.3" y2="355.8" stroke="#262626" stroke-width="1.95"/>
<line x1="567.10" x2="567.10" y1="299.2" y2="302.7" stroke="#262626" stroke-width="1.95"/>
<line x1="610.90" x2="610.90" y1="359.3" y2="355.8" stroke="#262626" stroke-width="1.95"/>
<line x1="610.90" x2="610.90" y1="299.2" y2="302.7" stroke="#262626" stroke-width="1.95"/>
<line x1="654.70" x2="654.70" y1="359.3" y2="355.8" stroke="#262626" stroke-width="1.95"/>
<line x1="654.70" x2="654.70" y1="299.2" y2="302.7" stroke="#262626" stroke-width="1.95"/>
<line x1="479.5" x2="483.0" y1="299.20" y2="299.20" stroke="#262626" stroke-width="1.95"/>
<line x1="698.5" x2="695.0" y1="299.20" y2="299.20" stroke="#262626" stroke-width="1.95"/>
<line x1="479.5" x2="483.0" y1="359.30" y2="359.30" stroke="#262626" stroke-width="1.95"/>
<line x1="698.5" x2="695.0" y1="359.30" y2="359.30" stroke="#262626" stroke-width="1.95"/>
<text x="470.7" y="305.90" text-anchor="end" font-size="18.7" textLength="10.75" lengthAdjust="spacingAndGlyphs">5</text>
<text x="470.7" y="366.30" text-anchor="end" font-size="18.7" textLength="10.75" lengthAdjust="spacingAndGlyphs">0</text>
<g fill="none" stroke="#0072BD" stroke-width="2.25">
<circle cx="506.7" cy="300.1" r="4.2"/>
<circle cx="508.7" cy="301.2" r="4.2"/>
<circle cx="510.8" cy="302.1" r="4.2"/>
<circle cx="512.8" cy="303.5" r="4.2"/>
<circle cx="514.2" cy="314.5" r="4.2"/>
<circle cx="515.6" cy="320.0" r="4.2"/>
<circle cx="517.0" cy="311.8" r="4.2"/>
<circle cx="519.7" cy="309.0" r="4.2"/>
<circle cx="521.1" cy="313.1" r="4.2"/>
<circle cx="523.8" cy="317.2" r="4.2"/>
<circle cx="526.6" cy="319.3" r="4.2"/>
<circle cx="529.3" cy="320.0" r="4.2"/>
<circle cx="532.0" cy="320.7" r="4.2"/>
<circle cx="534.1" cy="317.9" r="4.2"/>
<circle cx="536.2" cy="313.1" r="4.2"/>
<circle cx="538.9" cy="312.4" r="4.2"/>
<circle cx="541.0" cy="314.5" r="4.2"/>
<circle cx="543.0" cy="318.6" r="4.2"/>
<circle cx="545.1" cy="321.4" r="4.2"/>
<circle cx="546.4" cy="325.5" r="4.2"/>
<circle cx="548.5" cy="319.3" r="4.2"/>
<circle cx="551.2" cy="322.0" r="4.2"/>
<circle cx="554.0" cy="324.8" r="4.2"/>
<circle cx="556.7" cy="320.0" r="4.2"/>
<circle cx="559.5" cy="322.7" r="4.2"/>
<circle cx="562.2" cy="317.2" r="4.2"/>
<circle cx="562.9" cy="325.5" r="4.2"/>
<circle cx="564.6" cy="337.4" r="4.2"/>
<circle cx="566.4" cy="346.5" r="4.2"/>
<circle cx="568.2" cy="331.4" r="4.2"/>
<circle cx="570.1" cy="338.0" r="4.2"/>
<circle cx="571.9" cy="330.9" r="4.2"/>
<circle cx="573.7" cy="338.3" r="4.2"/>
<circle cx="575.5" cy="348.3" r="4.2"/>
<circle cx="577.4" cy="330.5" r="4.2"/>
<circle cx="579.2" cy="338.9" r="4.2"/>
<circle cx="581.0" cy="331.2" r="4.2"/>
<circle cx="582.9" cy="348.3" r="4.2"/>
<circle cx="584.7" cy="332.8" r="4.2"/>
<circle cx="586.5" cy="339.6" r="4.2"/>
<circle cx="588.3" cy="348.1" r="4.2"/>
<circle cx="590.1" cy="332.6" r="4.2"/>
<circle cx="592.0" cy="340.1" r="4.2"/>
<circle cx="593.8" cy="332.4" r="4.2"/>
<circle cx="595.6" cy="340.5" r="4.2"/>
<circle cx="597.5" cy="332.0" r="4.2"/>
<circle cx="599.3" cy="340.8" r="4.2"/>
<circle cx="601.1" cy="331.6" r="4.2"/>
<circle cx="602.9" cy="341.2" r="4.2"/>
<circle cx="604.8" cy="331.6" r="4.2"/>
<circle cx="606.6" cy="341.5" r="4.2"/>
<circle cx="608.4" cy="332.1" r="4.2"/>
<circle cx="610.2" cy="341.9" r="4.2"/>
<circle cx="612.0" cy="334.3" r="4.2"/>
<circle cx="613.9" cy="337.3" r="4.2"/>
<circle cx="615.7" cy="334.3" r="4.2"/>
<circle cx="617.5" cy="337.3" r="4.2"/>
<circle cx="621.2" cy="334.8" r="4.2"/>
<circle cx="623.0" cy="335.1" r="4.2"/>
<circle cx="624.8" cy="336.9" r="4.2"/>
<circle cx="626.6" cy="337.0" r="4.2"/>
<circle cx="628.5" cy="337.1" r="4.2"/>
<circle cx="630.3" cy="336.3" r="4.2"/>
<circle cx="632.1" cy="335.5" r="4.2"/>
<circle cx="634.0" cy="336.1" r="4.2"/>
<circle cx="635.8" cy="334.5" r="4.2"/>
<circle cx="637.6" cy="334.1" r="4.2"/>
<circle cx="639.4" cy="335.5" r="4.2"/>
<circle cx="641.2" cy="335.7" r="4.2"/>
<circle cx="643.1" cy="336.4" r="4.2"/>
<circle cx="644.9" cy="336.6" r="4.2"/>
<circle cx="646.7" cy="334.0" r="4.2"/>
<circle cx="648.5" cy="333.0" r="4.2"/>
<circle cx="650.4" cy="331.3" r="4.2"/>
<circle cx="652.2" cy="329.6" r="4.2"/>
<circle cx="654.0" cy="327.9" r="4.2"/>
<circle cx="655.9" cy="327.6" r="4.2"/>
<circle cx="657.7" cy="328.4" r="4.2"/>
<circle cx="659.5" cy="327.5" r="4.2"/>
<circle cx="661.3" cy="327.0" r="4.2"/>
<circle cx="663.1" cy="327.1" r="4.2"/>
<circle cx="665.0" cy="328.0" r="4.2"/>
<circle cx="666.8" cy="326.9" r="4.2"/>
<circle cx="668.6" cy="327.8" r="4.2"/>
<circle cx="670.5" cy="326.9" r="4.2"/>
<circle cx="672.3" cy="328.8" r="4.2"/>
<circle cx="674.1" cy="328.9" r="4.2"/>
<circle cx="675.9" cy="328.9" r="4.2"/>
<circle cx="677.8" cy="331.3" r="4.2"/>
<circle cx="679.6" cy="331.7" r="4.2"/>
<circle cx="681.4" cy="333.2" r="4.2"/>
</g>
</g>
<g>
<line x1="136.5" x2="355.5" y1="485.30" y2="485.30" stroke="#e5e5e5" stroke-width="1.95"/>
<line x1="137.05" x2="354.5" y1="480.93" y2="480.93" stroke="#c6c6c6" stroke-width="1.8" stroke-dasharray="1.2 4.385"/>
<line x1="137.05" x2="354.5" y1="476.56" y2="476.56" stroke="#c6c6c6" stroke-width="1.8" stroke-dasharray="1.2 4.385"/>
<line x1="137.05" x2="354.5" y1="472.19" y2="472.19" stroke="#c6c6c6" stroke-width="1.8" stroke-dasharray="1.2 4.385"/>
<line x1="137.05" x2="354.5" y1="467.82" y2="467.82" stroke="#c6c6c6" stroke-width="1.8" stroke-dasharray="1.2 4.385"/>
<line x1="136.5" x2="355.5" y1="463.45" y2="463.45" stroke="#e5e5e5" stroke-width="1.95"/>
<line x1="137.05" x2="354.5" y1="459.08" y2="459.08" stroke="#c6c6c6" stroke-width="1.8" stroke-dasharray="1.2 4.385"/>
<line x1="137.05" x2="354.5" y1="454.71" y2="454.71" stroke="#c6c6c6" stroke-width="1.8" stroke-dasharray="1.2 4.385"/>
<line x1="137.05" x2="354.5" y1="450.34" y2="450.34" stroke="#c6c6c6" stroke-width="1.8" stroke-dasharray="1.2 4.385"/>
<line x1="137.05" x2="354.5" y1="445.97" y2="445.97" stroke="#c6c6c6" stroke-width="1.8" stroke-dasharray="1.2 4.385"/>
<line x1="136.5" x2="355.5" y1="441.60" y2="441.60" stroke="#e5e5e5" stroke-width="1.95"/>
<line x1="137.05" x2="354.5" y1="437.23" y2="437.23" stroke="#c6c6c6" stroke-width="1.8" stroke-dasharray="1.2 4.385"/>
<line x1="137.05" x2="354.5" y1="432.86" y2="432.86" stroke="#c6c6c6" stroke-width="1.8" stroke-dasharray="1.2 4.385"/>
<line x1="137.05" x2="354.5" y1="428.49" y2="428.49" stroke="#c6c6c6" stroke-width="1.8" stroke-dasharray="1.2 4.385"/>
<line x1="180.30" x2="180.30" y1="427.2" y2="487.3" stroke="#e5e5e5" stroke-width="1.95"/>
<line x1="224.10" x2="224.10" y1="427.2" y2="487.3" stroke="#e5e5e5" stroke-width="1.95"/>
<line x1="267.90" x2="267.90" y1="427.2" y2="487.3" stroke="#e5e5e5" stroke-width="1.95"/>
<line x1="311.70" x2="311.70" y1="427.2" y2="487.3" stroke="#e5e5e5" stroke-width="1.95"/>
<rect x="136.5" y="427.2" width="219.0" height="60.10" fill="none" stroke="#262626" stroke-width="1.95"/>
<line x1="180.30" x2="180.30" y1="487.3" y2="483.8" stroke="#262626" stroke-width="1.95"/>
<line x1="180.30" x2="180.30" y1="427.2" y2="430.7" stroke="#262626" stroke-width="1.95"/>
<line x1="224.10" x2="224.10" y1="487.3" y2="483.8" stroke="#262626" stroke-width="1.95"/>
<line x1="224.10" x2="224.10" y1="427.2" y2="430.7" stroke="#262626" stroke-width="1.95"/>
<line x1="267.90" x2="267.90" y1="487.3" y2="483.8" stroke="#262626" stroke-width="1.95"/>
<line x1="267.90" x2="267.90" y1="427.2" y2="430.7" stroke="#262626" stroke-width="1.95"/>
<line x1="311.70" x2="311.70" y1="487.3" y2="483.8" stroke="#262626" stroke-width="1.95"/>
<line x1="311.70" x2="311.70" y1="427.2" y2="430.7" stroke="#262626" stroke-width="1.95"/>
<line x1="136.5" x2="140.0" y1="441.60" y2="441.60" stroke="#262626" stroke-width="1.95"/>
<line x1="355.5" x2="352.0" y1="441.60" y2="441.60" stroke="#262626" stroke-width="1.95"/>
<line x1="136.5" x2="140.0" y1="463.45" y2="463.45" stroke="#262626" stroke-width="1.95"/>
<line x1="355.5" x2="352.0" y1="463.45" y2="463.45" stroke="#262626" stroke-width="1.95"/>
<line x1="136.5" x2="140.0" y1="485.30" y2="485.30" stroke="#262626" stroke-width="1.95"/>
<line x1="355.5" x2="352.0" y1="485.30" y2="485.30" stroke="#262626" stroke-width="1.95"/>
<text x="127.7" y="448.50" text-anchor="end" font-size="18.7" textLength="32.25" lengthAdjust="spacingAndGlyphs">200</text>
<text x="127.7" y="470.35" text-anchor="end" font-size="18.7" textLength="32.25" lengthAdjust="spacingAndGlyphs">100</text>
<text x="127.7" y="492.20" text-anchor="end" font-size="18.7" textLength="10.75" lengthAdjust="spacingAndGlyphs">0</text>
<g fill="none" stroke="#0072BD" stroke-width="2.25">
<circle cx="163.2" cy="486.4" r="4.2"/>
<circle cx="165.0" cy="486.4" r="4.2"/>
<circle cx="166.8" cy="486.4" r="4.2"/>
<circle cx="168.7" cy="486.4" r="4.2"/>
<circle cx="170.5" cy="486.4" r="4.2"/>
<circle cx="172.3" cy="486.4" r="4.2"/>
<circle cx="174.1" cy="486.4" r="4.2"/>
<circle cx="176.0" cy="486.4" r="4.2"/>
<circle cx="177.8" cy="486.4" r="4.2"/>
<circle cx="180.4" cy="474.4" r="4.2"/>
<circle cx="183.6" cy="471.6" r="4.2"/>
<circle cx="181.4" cy="462.4" r="4.2"/>
<circle cx="186.0" cy="452.8" r="4.2"/>
<circle cx="187.0" cy="454.9" r="4.2"/>
<circle cx="189.3" cy="457.0" r="4.2"/>
<circle cx="191.0" cy="446.2" r="4.2"/>
<circle cx="203.9" cy="427.5" r="4.2"/>
<circle cx="198.0" cy="467.4" r="4.2"/>
<circle cx="207.3" cy="465.0" r="4.2"/>
<circle cx="205.8" cy="471.6" r="4.2"/>
<circle cx="201.6" cy="475.8" r="4.2"/>
<circle cx="199.5" cy="476.5" r="4.2"/>
<circle cx="192.4" cy="482.9" r="4.2"/>
<circle cx="195.0" cy="484.3" r="4.2"/>
<circle cx="197.4" cy="483.6" r="4.2"/>
<circle cx="208.8" cy="486.4" r="4.2"/>
<circle cx="210.6" cy="486.4" r="4.2"/>
<circle cx="212.5" cy="486.4" r="4.2"/>
<circle cx="214.3" cy="486.4" r="4.2"/>
<circle cx="216.1" cy="486.4" r="4.2"/>
<circle cx="217.9" cy="486.4" r="4.2"/>
<circle cx="219.8" cy="486.4" r="4.2"/>
<circle cx="221.6" cy="486.4" r="4.2"/>
<circle cx="223.4" cy="486.4" r="4.2"/>
<circle cx="225.2" cy="486.4" r="4.2"/>
<circle cx="227.1" cy="486.4" r="4.2"/>
<circle cx="228.9" cy="486.4" r="4.2"/>
<circle cx="230.7" cy="486.4" r="4.2"/>
<circle cx="209.4" cy="487.2" r="4.2"/>
<circle cx="235.3" cy="470.2" r="4.2"/>
<circle cx="236.5" cy="473.0" r="4.2"/>
<circle cx="232.7" cy="475.4" r="4.2"/>
<circle cx="234.0" cy="478.7" r="4.2"/>
<circle cx="246.1" cy="462.4" r="4.2"/>
<circle cx="247.6" cy="475.1" r="4.2"/>
<circle cx="244.7" cy="478.7" r="4.2"/>
<circle cx="240.5" cy="486.4" r="4.2"/>
<circle cx="238.5" cy="486.4" r="4.2"/>
<circle cx="242.6" cy="486.4" r="4.2"/>
<circle cx="250.8" cy="486.4" r="4.2"/>
<circle cx="252.6" cy="486.4" r="4.2"/>
<circle cx="254.4" cy="486.4" r="4.2"/>
<circle cx="256.3" cy="486.4" r="4.2"/>
<circle cx="258.1" cy="486.4" r="4.2"/>
<circle cx="259.9" cy="486.4" r="4.2"/>
<circle cx="261.8" cy="486.4" r="4.2"/>
<circle cx="263.6" cy="486.4" r="4.2"/>
<circle cx="265.4" cy="486.4" r="4.2"/>
<circle cx="267.2" cy="486.4" r="4.2"/>
<circle cx="269.0" cy="486.4" r="4.2"/>
<circle cx="270.9" cy="486.4" r="4.2"/>
<circle cx="273.2" cy="482.2" r="4.2"/>
<circle cx="274.6" cy="478.1" r="4.2"/>
<circle cx="275.3" cy="475.4" r="4.2"/>
<circle cx="277.3" cy="467.8" r="4.2"/>
<circle cx="278.7" cy="458.9" r="4.2"/>
<circle cx="280.1" cy="447.9" r="4.2"/>
<circle cx="282.1" cy="439.0" r="4.2"/>
<circle cx="283.5" cy="440.4" r="4.2"/>
<circle cx="285.6" cy="442.4" r="4.2"/>
<circle cx="287.6" cy="444.5" r="4.2"/>
<circle cx="290.4" cy="445.9" r="4.2"/>
<circle cx="292.2" cy="446.3" r="4.2"/>
<circle cx="294.0" cy="446.8" r="4.2"/>
<circle cx="295.9" cy="447.2" r="4.2"/>
<circle cx="297.7" cy="447.5" r="4.2"/>
<circle cx="299.5" cy="447.8" r="4.2"/>
<circle cx="301.3" cy="447.9" r="4.2"/>
<circle cx="303.2" cy="449.0" r="4.2"/>
<circle cx="304.6" cy="451.0" r="4.2"/>
<circle cx="305.8" cy="455.5" r="4.2"/>
<circle cx="307.8" cy="467.5" r="4.2"/>
<circle cx="310.7" cy="476.4" r="4.2"/>
<circle cx="315.2" cy="453.8" r="4.2"/>
<circle cx="316.6" cy="457.5" r="4.2"/>
<circle cx="313.5" cy="463.0" r="4.2"/>
<circle cx="318.4" cy="464.0" r="4.2"/>
<circle cx="320.2" cy="469.5" r="4.2"/>
<circle cx="322.2" cy="473.0" r="4.2"/>
<circle cx="324.3" cy="482.2" r="4.2"/>
<circle cx="326.4" cy="486.4" r="4.2"/>
<circle cx="328.4" cy="486.4" r="4.2"/>
<circle cx="330.5" cy="480.9" r="4.2"/>
<circle cx="333.2" cy="477.4" r="4.2"/>
<circle cx="335.3" cy="482.2" r="4.2"/>
<circle cx="337.3" cy="486.4" r="4.2"/>
<circle cx="339.4" cy="480.9" r="4.2"/>
</g>
</g>
<g>
<line x1="480.45" x2="697.5" y1="477.30" y2="477.30" stroke="#c6c6c6" stroke-width="1.8" stroke-dasharray="1.2 4.385"/>
<line x1="480.45" x2="697.5" y1="467.30" y2="467.30" stroke="#c6c6c6" stroke-width="1.8" stroke-dasharray="1.2 4.385"/>
<line x1="480.45" x2="697.5" y1="457.30" y2="457.30" stroke="#c6c6c6" stroke-width="1.8" stroke-dasharray="1.2 4.385"/>
<line x1="480.45" x2="697.5" y1="447.30" y2="447.30" stroke="#c6c6c6" stroke-width="1.8" stroke-dasharray="1.2 4.385"/>
<line x1="479.5" x2="698.5" y1="437.30" y2="437.30" stroke="#e5e5e5" stroke-width="1.95"/>
<line x1="523.30" x2="523.30" y1="427.2" y2="487.3" stroke="#e5e5e5" stroke-width="1.95"/>
<line x1="567.10" x2="567.10" y1="427.2" y2="487.3" stroke="#e5e5e5" stroke-width="1.95"/>
<line x1="610.90" x2="610.90" y1="427.2" y2="487.3" stroke="#e5e5e5" stroke-width="1.95"/>
<line x1="654.70" x2="654.70" y1="427.2" y2="487.3" stroke="#e5e5e5" stroke-width="1.95"/>
<rect x="479.5" y="427.2" width="219.0" height="60.10" fill="none" stroke="#262626" stroke-width="1.95"/>
<line x1="523.30" x2="523.30" y1="487.3" y2="483.8" stroke="#262626" stroke-width="1.95"/>
<line x1="523.30" x2="523.30" y1="427.2" y2="430.7" stroke="#262626" stroke-width="1.95"/>
<line x1="567.10" x2="567.10" y1="487.3" y2="483.8" stroke="#262626" stroke-width="1.95"/>
<line x1="567.10" x2="567.10" y1="427.2" y2="430.7" stroke="#262626" stroke-width="1.95"/>
<line x1="610.90" x2="610.90" y1="487.3" y2="483.8" stroke="#262626" stroke-width="1.95"/>
<line x1="610.90" x2="610.90" y1="427.2" y2="430.7" stroke="#262626" stroke-width="1.95"/>
<line x1="654.70" x2="654.70" y1="487.3" y2="483.8" stroke="#262626" stroke-width="1.95"/>
<line x1="654.70" x2="654.70" y1="427.2" y2="430.7" stroke="#262626" stroke-width="1.95"/>
<line x1="479.5" x2="483.0" y1="437.30" y2="437.30" stroke="#262626" stroke-width="1.95"/>
<line x1="698.5" x2="695.0" y1="437.30" y2="437.30" stroke="#262626" stroke-width="1.95"/>
<line x1="479.5" x2="483.0" y1="487.30" y2="487.30" stroke="#262626" stroke-width="1.95"/>
<line x1="698.5" x2="695.0" y1="487.30" y2="487.30" stroke="#262626" stroke-width="1.95"/>
<text x="470.7" y="444.20" text-anchor="end" font-size="18.7" textLength="21.50" lengthAdjust="spacingAndGlyphs">50</text>
<text x="470.7" y="494.20" text-anchor="end" font-size="18.7" textLength="10.75" lengthAdjust="spacingAndGlyphs">0</text>
<g fill="none" stroke="#0072BD" stroke-width="2.25">
<circle cx="506.7" cy="442.4" r="4.2"/>
<circle cx="508.7" cy="440.4" r="4.2"/>
<circle cx="510.4" cy="426.7" r="4.2"/>
<circle cx="512.1" cy="430.1" r="4.2"/>
<circle cx="514.2" cy="441.8" r="4.2"/>
<circle cx="515.9" cy="455.9" r="4.2"/>
<circle cx="519.0" cy="487.0" r="4.2"/>
<circle cx="520.8" cy="487.0" r="4.2"/>
<circle cx="522.6" cy="487.0" r="4.2"/>
<circle cx="524.5" cy="487.0" r="4.2"/>
<circle cx="526.3" cy="487.0" r="4.2"/>
<circle cx="528.1" cy="487.0" r="4.2"/>
<circle cx="529.9" cy="487.0" r="4.2"/>
<circle cx="531.8" cy="487.0" r="4.2"/>
<circle cx="533.6" cy="487.0" r="4.2"/>
<circle cx="535.5" cy="485.0" r="4.2"/>
<circle cx="537.5" cy="484.3" r="4.2"/>
<circle cx="539.3" cy="483.8" r="4.2"/>
<circle cx="541.1" cy="483.2" r="4.2"/>
<circle cx="543.0" cy="482.5" r="4.2"/>
<circle cx="545.1" cy="482.0" r="4.2"/>
<circle cx="546.9" cy="464.4" r="4.2"/>
<circle cx="548.8" cy="456.2" r="4.2"/>
<circle cx="550.6" cy="447.2" r="4.2"/>
<circle cx="552.3" cy="456.2" r="4.2"/>
<circle cx="554.0" cy="470.6" r="4.2"/>
<circle cx="556.0" cy="468.5" r="4.2"/>
<circle cx="557.4" cy="474.0" r="4.2"/>
<circle cx="559.5" cy="478.1" r="4.2"/>
<circle cx="561.0" cy="487.0" r="4.2"/>
<circle cx="562.8" cy="487.0" r="4.2"/>
<circle cx="564.6" cy="487.0" r="4.2"/>
<circle cx="566.4" cy="487.0" r="4.2"/>
<circle cx="568.2" cy="487.0" r="4.2"/>
<circle cx="570.1" cy="487.0" r="4.2"/>
<circle cx="571.9" cy="487.0" r="4.2"/>
<circle cx="573.7" cy="487.0" r="4.2"/>
<circle cx="575.5" cy="487.0" r="4.2"/>
<circle cx="577.4" cy="487.0" r="4.2"/>
<circle cx="579.4" cy="480.9" r="4.2"/>
<circle cx="581.5" cy="478.1" r="4.2"/>
<circle cx="583.5" cy="476.0" r="4.2"/>
<circle cx="585.3" cy="468.5" r="4.2"/>
<circle cx="584.2" cy="487.0" r="4.2"/>
<circle cx="587.6" cy="474.0" r="4.2"/>
<circle cx="589.7" cy="475.4" r="4.2"/>
<circle cx="591.8" cy="476.7" r="4.2"/>
<circle cx="593.8" cy="478.8" r="4.2"/>
<circle cx="595.9" cy="481.5" r="4.2"/>
<circle cx="597.9" cy="484.3" r="4.2"/>
<circle cx="601.1" cy="487.0" r="4.2"/>
<circle cx="602.9" cy="487.0" r="4.2"/>
<circle cx="604.8" cy="487.0" r="4.2"/>
<circle cx="606.6" cy="487.0" r="4.2"/>
<circle cx="608.4" cy="487.0" r="4.2"/>
<circle cx="610.2" cy="487.0" r="4.2"/>
<circle cx="612.0" cy="487.0" r="4.2"/>
<circle cx="613.9" cy="487.0" r="4.2"/>
<circle cx="615.7" cy="487.0" r="4.2"/>
<circle cx="617.5" cy="487.0" r="4.2"/>
<circle cx="619.4" cy="487.0" r="4.2"/>
<circle cx="621.9" cy="482.2" r="4.2"/>
<circle cx="624.0" cy="478.8" r="4.2"/>
<circle cx="626.0" cy="475.4" r="4.2"/>
<circle cx="627.8" cy="472.6" r="4.2"/>
<circle cx="629.2" cy="463.0" r="4.2"/>
<circle cx="630.9" cy="450.7" r="4.2"/>
<circle cx="632.9" cy="436.3" r="4.2"/>
<circle cx="635.0" cy="441.8" r="4.2"/>
<circle cx="636.6" cy="450.0" r="4.2"/>
<circle cx="638.4" cy="458.2" r="4.2"/>
<circle cx="640.2" cy="461.6" r="4.2"/>
<circle cx="641.8" cy="465.8" r="4.2"/>
<circle cx="643.5" cy="469.9" r="4.2"/>
<circle cx="645.3" cy="474.0" r="4.2"/>
<circle cx="647.0" cy="478.1" r="4.2"/>
<circle cx="648.7" cy="482.2" r="4.2"/>
<circle cx="650.4" cy="487.0" r="4.2"/>
<circle cx="652.2" cy="487.0" r="4.2"/>
<circle cx="654.0" cy="487.0" r="4.2"/>
<circle cx="655.9" cy="487.0" r="4.2"/>
<circle cx="657.7" cy="487.0" r="4.2"/>
<circle cx="659.5" cy="487.0" r="4.2"/>
<circle cx="661.3" cy="487.0" r="4.2"/>
<circle cx="663.1" cy="487.0" r="4.2"/>
<circle cx="665.0" cy="487.0" r="4.2"/>
<circle cx="667.7" cy="476.0" r="4.2"/>
<circle cx="669.5" cy="466.4" r="4.2"/>
<circle cx="671.2" cy="464.4" r="4.2"/>
<circle cx="673.2" cy="454.5" r="4.2"/>
<circle cx="675.0" cy="448.6" r="4.2"/>
<circle cx="676.9" cy="433.5" r="4.2"/>
<circle cx="679.0" cy="446.3" r="4.2"/>
<circle cx="680.8" cy="464.4" r="4.2"/>
<circle cx="682.4" cy="476.0" r="4.2"/>
</g>
</g>
<text transform="translate(149.80,509.8) rotate(-45)" text-anchor="end" font-size="18.7" textLength="51.7" lengthAdjust="spacingAndGlyphs">01/12</text>
<text transform="translate(193.60,509.8) rotate(-45)" text-anchor="end" font-size="18.7" textLength="51.7" lengthAdjust="spacingAndGlyphs">01/13</text>
<text transform="translate(237.40,509.8) rotate(-45)" text-anchor="end" font-size="18.7" textLength="51.7" lengthAdjust="spacingAndGlyphs">01/14</text>
<text transform="translate(281.20,509.8) rotate(-45)" text-anchor="end" font-size="18.7" textLength="51.7" lengthAdjust="spacingAndGlyphs">01/15</text>
<text transform="translate(325.00,509.8) rotate(-45)" text-anchor="end" font-size="18.7" textLength="51.7" lengthAdjust="spacingAndGlyphs">01/16</text>
<text transform="translate(368.80,509.8) rotate(-45)" text-anchor="end" font-size="18.7" textLength="51.7" lengthAdjust="spacingAndGlyphs">01/17</text>
<text x="246.3" y="575.6" text-anchor="middle" font-size="21.2" textLength="47" lengthAdjust="spacingAndGlyphs">Time</text>
<text transform="translate(492.80,509.8) rotate(-45)" text-anchor="end" font-size="18.7" textLength="51.7" lengthAdjust="spacingAndGlyphs">01/12</text>
<text transform="translate(536.60,509.8) rotate(-45)" text-anchor="end" font-size="18.7" textLength="51.7" lengthAdjust="spacingAndGlyphs">01/13</text>
<text transform="translate(580.40,509.8) rotate(-45)" text-anchor="end" font-size="18.7" textLength="51.7" lengthAdjust="spacingAndGlyphs">01/14</text>
<text transform="translate(624.20,509.8) rotate(-45)" text-anchor="end" font-size="18.7" textLength="51.7" lengthAdjust="spacingAndGlyphs">01/15</text>
<text transform="translate(668.00,509.8) rotate(-45)" text-anchor="end" font-size="18.7" textLength="51.7" lengthAdjust="spacingAndGlyphs">01/16</text>
<text transform="translate(711.80,509.8) rotate(-45)" text-anchor="end" font-size="18.7" textLength="51.7" lengthAdjust="spacingAndGlyphs">01/17</text>
<text x="589.3" y="575.6" text-anchor="middle" font-size="21.2" textLength="47" lengthAdjust="spacingAndGlyphs">Time</text>
<text x="245.8" y="31.6" text-anchor="middle" font-size="19.6" font-weight="bold" textLength="137.5" lengthAdjust="spacingAndGlyphs" style="fill:#000">Figure 3 high</text>
<g transform="translate(72.6,124.6) rotate(-90)"><text x="0.0" y="0" font-size="21.2" textLength="101.6" lengthAdjust="spacingAndGlyphs">PRESSURE</text></g>
<g transform="translate(426.7,107.3) rotate(-90)"><text x="0.0" y="0" font-size="21.2" textLength="65.6" lengthAdjust="spacingAndGlyphs">THETA</text></g>
<g transform="translate(74.9,245.9) rotate(-90)"><text x="0.0" y="0" font-size="21.2" textLength="33.3" lengthAdjust="spacingAndGlyphs">AIR</text><text x="35.2" y="10.0" font-size="16.2" textLength="9.3" lengthAdjust="spacingAndGlyphs">T</text><text x="45.7" y="0" font-size="21.2" textLength="42.7" lengthAdjust="spacingAndGlyphs">EMP</text></g>
<g transform="translate(449.4,249.8) rotate(-90)"><text x="0.0" y="0" font-size="21.2" textLength="96.4" lengthAdjust="spacingAndGlyphs">RAINFALL</text></g>
<g transform="translate(73.1,383.2) rotate(-90)"><text x="0.0" y="0" font-size="21.2" textLength="106.4" lengthAdjust="spacingAndGlyphs">MIXDEPTH</text></g>
<g transform="translate(449.4,383.8) rotate(-90)"><text x="0.0" y="0" font-size="21.2" textLength="110.3" lengthAdjust="spacingAndGlyphs">H2OMIXRA</text></g>
<g transform="translate(74.5,501.9) rotate(-90)"><text x="-0.4" y="0" font-size="21.2" textLength="50.5" lengthAdjust="spacingAndGlyphs">TERR</text><text x="52.2" y="10.0" font-size="16.2" textLength="13.6" lengthAdjust="spacingAndGlyphs">M</text><text x="67.6" y="0" font-size="21.2" textLength="21.9" lengthAdjust="spacingAndGlyphs">SL</text></g>
<g transform="translate(399.1,503.0) rotate(-90)"><text x="-1.0" y="0" font-size="21.2" textLength="42.3" lengthAdjust="spacingAndGlyphs">SUN</text><text x="45.0" y="10.0" font-size="16.2" textLength="7.5" lengthAdjust="spacingAndGlyphs">F</text><text x="53.8" y="0" font-size="21.2" textLength="38.0" lengthAdjust="spacingAndGlyphs">LUX</text></g>
</svg>
</body></html>
